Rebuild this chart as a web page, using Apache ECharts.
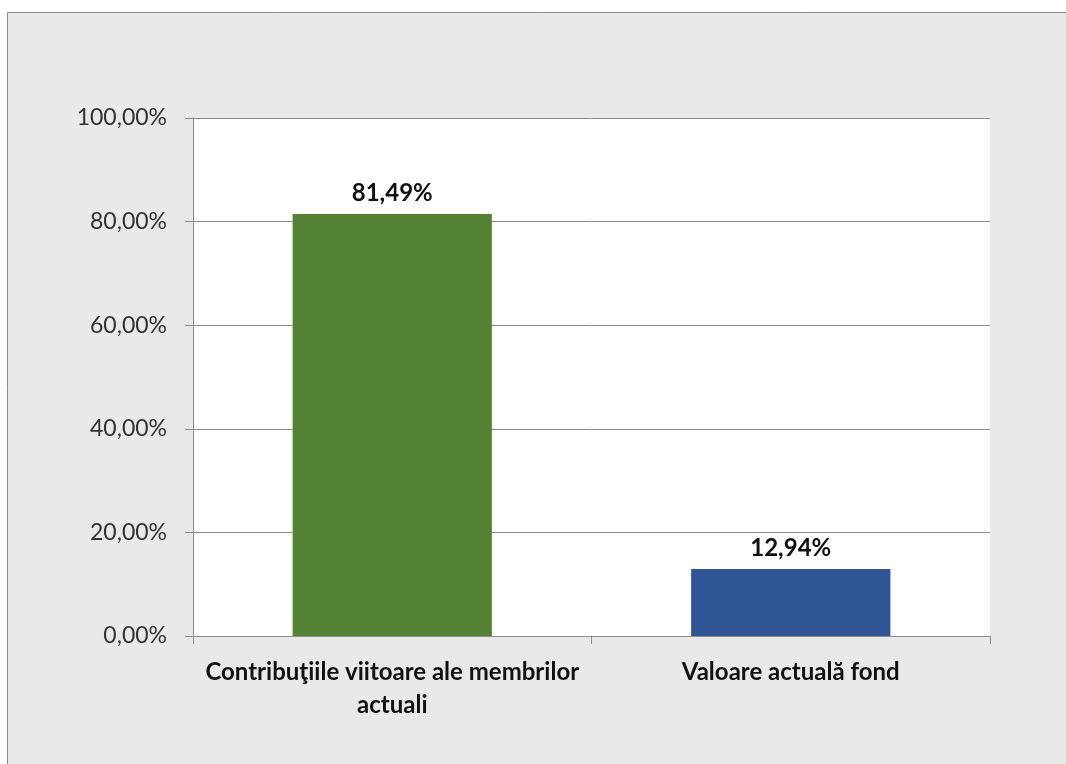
<!DOCTYPE html>
<html>
<head>
<meta charset="utf-8">
<script src="https://cdn.jsdelivr.net/npm/echarts@6/dist/echarts.min.js"></script>
<style>
  html, body { margin: 0; padding: 0; background: #fff; }
  #main { width: 1066px; height: 764px; }
</style>
</head>
<body>
<div id="main"></div>
<script>
// date grafic
var categories = ['Contribuţiile viitoare ale membrilor\nactuali', 'Valoare actuală fond'];
var values = [81.49, 12.94];
var barColors = ['#548235', '#2f5597'];
var yTicks = [0, 20, 40, 60, 80, 100];

function fmt(v) {
  return v.toFixed(2).replace('.', ',') + '%';
}

var chart = echarts.init(document.getElementById('main'));

var option = {
  backgroundColor: '#fff',
  textStyle: { fontFamily: 'Lato' },
  graphic: [{
    type: 'rect',
    z: -10,
    shape: { x: 7.5, y: 12.5, width: 1070, height: 760 },
    style: { fill: '#e9e9e9', stroke: '#8a8a8a', lineWidth: 1 },
    silent: true
  }],
  grid: {
    left: 193,
    right: 76,
    top: 118,
    bottom: 128,
    show: true,
    backgroundColor: '#fff',
    borderWidth: 0
  },
  xAxis: {
    type: 'category',
    data: categories,
    axisLine: { lineStyle: { color: '#8c8c8c' } },
    axisTick: { show: true, length: 8, lineStyle: { color: '#8c8c8c' } },
    axisLabel: {
      margin: 20,
      color: '#111',
      fontSize: 24,
      fontWeight: 'bold',
      lineHeight: 33,
      interval: 0
    }
  },
  yAxis: {
    type: 'value',
    min: yTicks[0],
    max: yTicks[yTicks.length - 1],
    interval: 20,
    axisLine: { show: true, lineStyle: { color: '#8c8c8c' } },
    axisTick: { show: true, length: 8, lineStyle: { color: '#8c8c8c' } },
    splitLine: { lineStyle: { color: '#8c8c8c' } },
    axisLabel: {
      margin: 26,
      color: '#333',
      fontSize: 23,
      formatter: function (v) { return fmt(v); }
    }
  },
  series: [{
    type: 'bar',
    barWidth: '50%',
    data: values.map(function (v, i) {
      return { value: v, itemStyle: { color: barColors[i] } };
    }),
    label: {
      show: true,
      position: 'top',
      distance: 9,
      color: '#111',
      fontSize: 24,
      fontWeight: 'bold',
      formatter: function (p) { return fmt(p.value); }
    }
  }]
};

chart.setOption(option);
</script>
</body>
</html>
